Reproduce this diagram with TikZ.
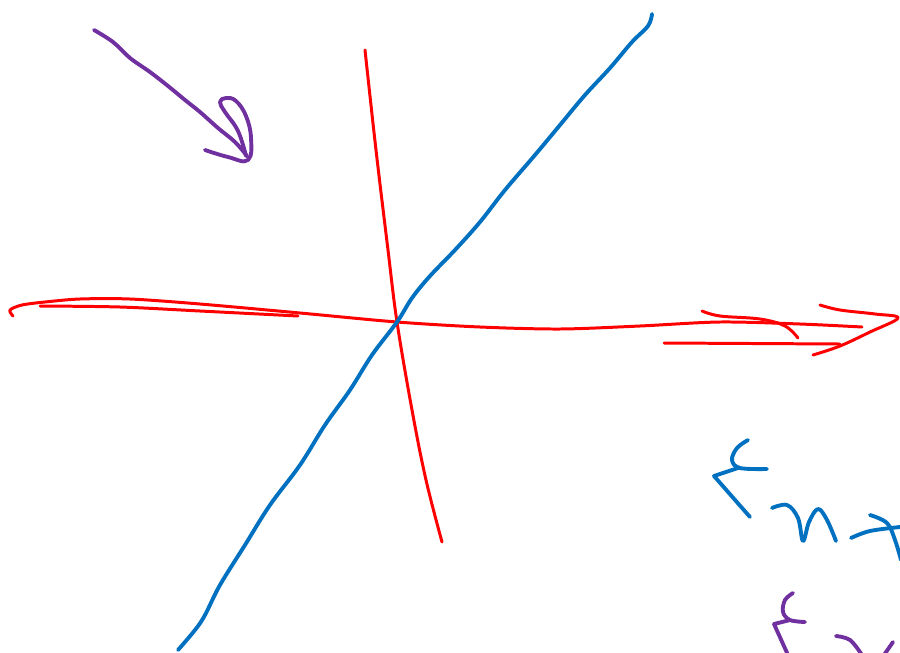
\documentclass[tikz,border=0pt]{standalone}
\definecolor{inkred}{RGB}{255,0,0}
\definecolor{inkblue}{RGB}{0,112,192}
\definecolor{inkpurple}{RGB}{112,48,160}
\tikzset{
  redink/.style={draw=inkred,line width=1.7pt,line cap=round,line join=round},
  blueink/.style={draw=inkblue,line width=2.2pt,line cap=round,line join=round},
  purpleink/.style={draw=inkpurple,line width=2.2pt,line cap=round,line join=round}
}
\begin{document}
\begin{tikzpicture}[x=0.02cm,y=-0.02cm]
\useasboundingbox (0,0) rectangle (900,653);
% red vertical
\draw[redink] plot[smooth,tension=0.6] coordinates {(365,50) (376,150) (388,250) (397,322) (412,410) (426,480) (442,542)};
% red horizontal
\draw[redink] plot[smooth,tension=0.5] coordinates {(13,316) (10,310) (22,305) (45,302) (80,299) (130,299) (200,304) (300,313) (397,322) (480,327) (560,329) (640,326) (720,322) (800,324) (862,327)};
\draw[redink] plot[smooth,tension=0.5] coordinates {(40,306) (120,307) (200,311) (298,316)};
\draw[redink] plot[smooth,tension=0.6] coordinates {(702,311) (720,316) (760,319) (785,326) (798,338)};
\draw[redink] (664,343) -- (840,344);
\draw[redink] plot[smooth,tension=0.6] coordinates {(820,305) (840,310) (875,314) (898,318) (870,332) (840,346) (813,355)};
% blue diagonal
\draw[blueink] plot[smooth,tension=0.6] coordinates {(652,14) (648,26) (632,42) (610,68) (585,95) (560,125) (535,155) (505,190) (480,222) (455,250) (430,276) (412,298) (397,322) (372,355) (350,390) (325,425) (300,465) (270,505) (245,545) (220,585) (205,615) (195,630) (178,650)};
% purple arrow
\draw[purpleink] plot[smooth,tension=0.6] coordinates {(94,30) (113,42) (130,58) (150,72) (168,86) (185,100) (200,112) (218,128) (235,142) (247,156)};
\draw[purpleink] plot[smooth,tension=0.7] coordinates {(246,156) (238,131) (225,112) (220,102) (226,98) (236,101) (246,116) (251,138) (248,160) (228,157) (205,150)};
% blue handwriting
\draw[blueink] plot[smooth,tension=0.6] coordinates {(748,440) (737,448) (732,460) (740,468) (767,469)};
\draw[blueink] (738,468) -- (714,476) -- (750,517);
\draw[blueink] plot[smooth,tension=0.6] coordinates {(772,508) (787,505) (798,518) (803,541) (809,522) (818,509) (827,520) (836,541)};
\draw[blueink] plot[smooth,tension=0.6] coordinates {(851,538) (870,531) (900,527)};
\draw[blueink] plot[smooth,tension=0.6] coordinates {(870,515) (887,523) (895,540) (901,560)};
% purple handwriting
\draw[purpleink] plot[smooth,tension=0.6] coordinates {(793,593) (785,600) (783,612) (790,620) (805,622)};
\draw[purpleink] (790,620) -- (774,624) -- (788,655);
\draw[purpleink] plot[smooth,tension=0.6] coordinates {(836,636) (850,640) (862,655)};
\draw[purpleink] (893,642) -- (884,655);
\end{tikzpicture}
\end{document}
